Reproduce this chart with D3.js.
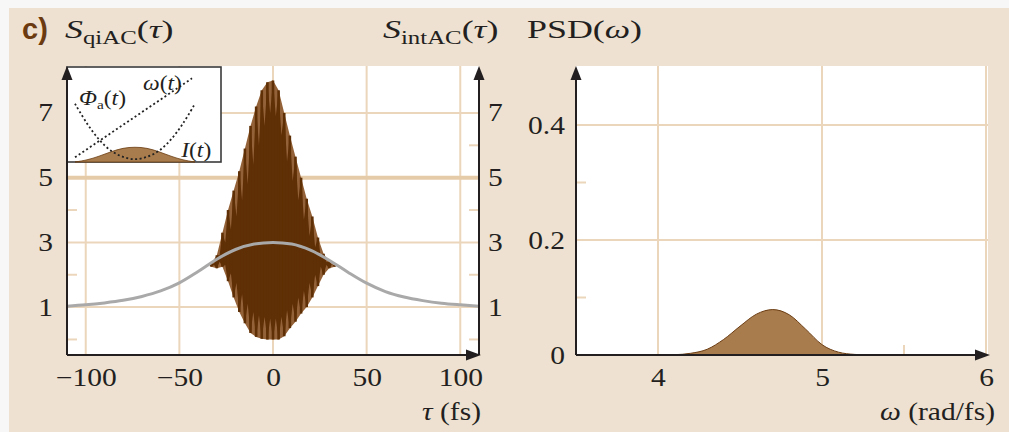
<!DOCTYPE html>
<html>
<head>
<meta charset="utf-8">
<script src="https://cdn.jsdelivr.net/npm/d3@7"></script>
<style>
  body { margin: 0; background: #fff; }
  svg text { font-family: "Liberation Serif", "Times New Roman", serif; fill: #231f20; }
  text.sx { transform-box: fill-box; transform: scaleX(1.18); }
  text.tx { transform-box: fill-box; transform: scaleX(1.38); transform-origin: 0% 50%; }
  text.a-end { transform-origin: 100% 50%; }
  text.a-start { transform-origin: 0% 50%; }
  text.a-mid { transform-origin: 50% 50%; }
</style>
</head>
<body>
<svg id="chart"></svg>
<script>
// ---------- data ----------
// left panel: interferometric autocorrelation S_qiAC and intensity AC S_intAC
const tauTicks = [-100, -50, 0, 50, 100];
const acTicks = [1, 3, 5, 7];
const acMinor = [0, 2, 4, 6];

const intTau = [-110, -100, -90, -80, -70, -60, -50, -40, -30, -20, -10, 0,
                10, 20, 30, 40, 50, 60, 70, 80, 90, 100, 110];
const intAC = [1.03, 1.07, 1.13, 1.21, 1.33, 1.5, 1.75, 2.1, 2.48, 2.78, 2.95, 3.0,
               2.95, 2.76, 2.45, 2.08, 1.74, 1.48, 1.31, 1.2, 1.12, 1.07, 1.03];

// fringe pattern, upper and lower edges (spike / notch alternating)
const fringeTau = [-33, -31.5, -30, -28.5, -27, -25.5, -24, -22.5, -21, -19.5, -18, -16.5,
                   -15, -13.5, -12, -10.5, -9, -7.5, -6, -4.5, -3, -1.5, 0, 1.5, 3, 4.5,
                   6, 7.5, 9, 10.5, 12, 13.5, 15, 16.5, 18, 19.5, 21, 22.5, 24, 25.5, 27,
                   28.5, 30, 31.5, 33];
const fringeHi = [2.35, 2.35, 2.6, 2.6, 3.3, 3.0, 4.0, 3.4, 4.6, 3.8, 5.2, 4.3, 5.9, 4.8,
                  6.6, 5.4, 7.2, 6.0, 7.7, 6.6, 7.95, 7.0, 8.0, 6.9, 7.7, 6.3, 7.0, 5.5,
                  6.3, 4.9, 5.65, 4.3, 5.0, 3.7, 4.35, 3.2, 3.8, 2.85, 3.15, 2.55, 2.65,
                  2.4, 2.4, 2.3, 2.3];
const fringeLo = [2.25, 2.3, 2.2, 2.4, 2.25, 2.3, 1.8, 2.05, 1.3, 1.75, 0.85, 1.4, 0.5,
                  1.1, 0.2, 0.85, 0.08, 0.75, 0.02, 0.7, 0.0, 0.65, 0.0, 0.65, 0.0, 0.7, 0.1,
                  0.9, 0.35, 1.1, 0.55, 1.3, 0.8, 1.5, 1.0, 1.75, 1.3, 2.0, 1.65, 2.25,
                  2.0, 2.3, 2.2, 2.32, 2.25];

// inset: pulse intensity, phase and instantaneous frequency (arb. units)
const insetT = [-1, -0.8, -0.6, -0.4, -0.2, 0, 0.2, 0.4, 0.6, 0.8, 1];
const insetI = [0, 0.02, 0.06, 0.11, 0.15, 0.16, 0.15, 0.11, 0.06, 0.02, 0];
const insetPhi = [0.62, 0.41, 0.24, 0.12, 0.055, 0.03, 0.055, 0.12, 0.24, 0.41, 0.62];
const omegaT = [-1, 0.95];
const omegaV = [0.05, 0.89];

// right panel: power spectral density
const omegaTicks = [4, 5, 6];
const psdTicks = [0, 0.2, 0.4];
const psdMinor = [0.1, 0.3];
const omegaMinor = [5.5];
const psdOmega = [4.0, 4.1, 4.2, 4.3, 4.4, 4.5, 4.6, 4.7, 4.8, 4.9, 5.0, 5.1, 5.2, 5.3];
const psdVal = [0, 0.0005, 0.003, 0.01, 0.027, 0.05, 0.071, 0.079, 0.07, 0.045, 0.018,
                0.005, 0.001, 0];

// ---------- styles ----------
const bg = '#eee1d1';
const gridColor = '#ebd6bb';
const axisColor = '#231f20';
const darkBrown = '#5f2f05';
const lightBrown = '#946238';
const tan = '#a87c4d';

const W = 1009, H = 432;
const svg = d3.select('#chart').attr('width', W).attr('height', H);

svg.append('rect').attr('width', W).attr('height', H).attr('fill', '#f7f7f7');
svg.append('rect').attr('x', 9).attr('y', 8).attr('width', W - 9).attr('height', H - 8)
    .attr('fill', bg);

function arrow(g, x0, y0, dir) {
  // small filled triangle, tip at (x0, y0)
  const p = dir === 'up'
    ? [[x0, y0], [x0 - 5.5, y0 + 14], [x0 + 5.5, y0 + 14]]
    : [[x0, y0], [x0 - 15, y0 - 5.5], [x0 - 15, y0 + 5.5]];
  g.append('path').attr('d', d3.line()(p) + 'Z').attr('fill', axisColor);
}

function styleAxis(g, cls, size) {
  g.attr('font-family', null).attr('font-size', null).attr('color', axisColor);
  g.select('.domain').remove();
  g.selectAll('text').attr('class', 'sx ' + cls).style('font-size', size + 'px');
}

// ================= left panel =================
const L = {left: 67, right: 479, top: 66, bottom: 355};
const x = d3.scaleLinear().domain([-110, 110]).range([L.left, L.right]);
const y = d3.scaleLinear().domain([-0.48, 8.42]).range([L.bottom, 67]);

const left = svg.append('g');
left.append('rect').attr('x', L.left).attr('y', L.top)
    .attr('width', L.right - L.left).attr('height', L.bottom - L.top).attr('fill', '#fff');

left.selectAll('.vgrid').data(tauTicks).join('line')
    .attr('class', 'vgrid')
    .attr('x1', d => x(d)).attr('x2', d => x(d))
    .attr('y1', L.top).attr('y2', L.bottom)
    .attr('stroke', gridColor).attr('stroke-width', 2);

left.selectAll('.hgrid').data(acTicks).join('line')
    .attr('class', 'hgrid')
    .attr('x1', L.left).attr('x2', L.right)
    .attr('y1', d => y(d)).attr('y2', d => y(d))
    .attr('stroke', d => d === 5 ? '#e6cba8' : gridColor)
    .attr('stroke-width', d => d === 5 ? 4 : 2);

left.selectAll('.minorL').data(acMinor).join('line')
    .attr('class', 'minorL')
    .attr('x1', L.left).attr('x2', L.left + 10)
    .attr('y1', d => y(d)).attr('y2', d => y(d))
    .attr('stroke', gridColor).attr('stroke-width', 2);
left.selectAll('.minorR').data(acMinor).join('line')
    .attr('class', 'minorR')
    .attr('x1', L.right - 10).attr('x2', L.right)
    .attr('y1', d => y(d)).attr('y2', d => y(d))
    .attr('stroke', gridColor).attr('stroke-width', 2);

// fringes
const fringe = fringeTau.map((t, i) => ({t: t, hi: fringeHi[i], lo: fringeLo[i]}));
const spikes = fringe.filter((d, i) => i % 2 === 0);
const fringeArea = d3.area()
    .x(d => x(d.t))
    .y0(d => y(d.lo))
    .y1(d => y(d.hi));
left.append('path')
    .datum(spikes)
    .attr('d', fringeArea)
    .attr('fill', lightBrown);
left.append('path')
    .datum(fringe)
    .attr('d', fringeArea)
    .attr('fill', darkBrown);
left.selectAll('.spike').data(spikes).join('line')
    .attr('class', 'spike')
    .attr('x1', d => x(d.t)).attr('x2', d => x(d.t))
    .attr('y1', d => y(d.lo)).attr('y2', d => y(d.hi))
    .attr('stroke', darkBrown).attr('stroke-width', 2.6);

// intensity autocorrelation
left.append('path')
    .datum(intTau.map((t, i) => [t, intAC[i]]))
    .attr('d', d3.line().x(d => x(d[0])).y(d => y(d[1])).curve(d3.curveMonotoneX))
    .attr('fill', 'none')
    .attr('stroke', '#a9a9a9')
    .attr('stroke-width', 3);

// inset
const inset = left.append('g');
const ix = d3.scaleLinear().domain([-1, 1]).range([75, 195]);
const iy = d3.scaleLinear().domain([0, 1]).range([162, 68]);
inset.append('rect').attr('x', 67).attr('y', 67).attr('width', 154).attr('height', 95)
    .attr('fill', '#fff').attr('stroke', '#3a3a3a').attr('stroke-width', 1.6);
inset.append('path')
    .datum(insetT.map((t, i) => [t, insetI[i]]))
    .attr('d', d3.area().x(d => ix(d[0])).y0(iy(0)).y1(d => iy(d[1])).curve(d3.curveBasis))
    .attr('fill', tan).attr('stroke', '#6b3c12').attr('stroke-width', 0.8);
inset.append('path')
    .datum(insetT.map((t, i) => [t, insetPhi[i]]))
    .attr('d', d3.line().x(d => ix(d[0])).y(d => iy(d[1])).curve(d3.curveCatmullRom))
    .attr('fill', 'none').attr('stroke', '#222').attr('stroke-width', 1.8)
    .attr('stroke-dasharray', '2,2.5');
inset.append('path')
    .datum(omegaT.map((t, i) => [t, omegaV[i]]))
    .attr('d', d3.line().x(d => ix(d[0])).y(d => iy(d[1])))
    .attr('fill', 'none').attr('stroke', '#222').attr('stroke-width', 1.8)
    .attr('stroke-dasharray', '2,2.5');

const phiLbl = inset.append('text').attr('class', 'sx a-start')
    .attr('x', 79).attr('y', 105).style('font-size', '20px');
phiLbl.append('tspan').style('font-style', 'italic').text('Φ');
phiLbl.append('tspan').attr('dy', 4).style('font-size', '13px').text('a');
phiLbl.append('tspan').attr('dy', -4).text('(');
phiLbl.append('tspan').style('font-style', 'italic').text('t');
phiLbl.append('tspan').text(')');

const omLbl = inset.append('text').attr('class', 'sx a-start')
    .attr('x', 143).attr('y', 90).style('font-size', '20px');
omLbl.append('tspan').style('font-style', 'italic').text('ω');
omLbl.append('tspan').text('(');
omLbl.append('tspan').style('font-style', 'italic').text('t');
omLbl.append('tspan').text(')');

const iLbl = inset.append('text').attr('class', 'sx a-start')
    .attr('x', 181).attr('y', 157).style('font-size', '20px');
iLbl.append('tspan').style('font-style', 'italic').text('I');
iLbl.append('tspan').text('(');
iLbl.append('tspan').style('font-style', 'italic').text('t');
iLbl.append('tspan').text(')');

// axes
left.append('g').attr('transform', `translate(${L.left},0)`)
    .call(d3.axisLeft(y).tickValues(acTicks).tickSize(0).tickPadding(14))
    .call(g => styleAxis(g, 'a-end', 25));
left.append('g').attr('transform', `translate(${L.right},0)`)
    .call(d3.axisRight(y).tickValues(acTicks).tickSize(0).tickPadding(9))
    .call(g => styleAxis(g, 'a-start', 25));
left.append('g').attr('transform', `translate(0,${L.bottom})`)
    .call(d3.axisBottom(x).tickValues(tauTicks).tickSize(0).tickPadding(13))
    .call(g => styleAxis(g, 'a-mid', 25));

const axL = left.append('g');
axL.append('line').attr('x1', L.left).attr('x2', L.left).attr('y1', L.bottom).attr('y2', 72)
    .attr('stroke', axisColor).attr('stroke-width', 2);
axL.append('line').attr('x1', L.right).attr('x2', L.right).attr('y1', L.bottom).attr('y2', 72)
    .attr('stroke', axisColor).attr('stroke-width', 2);
axL.append('line').attr('x1', L.left).attr('x2', L.right - 4).attr('y1', L.bottom).attr('y2', L.bottom)
    .attr('stroke', axisColor).attr('stroke-width', 2);
arrow(axL, L.left, 66, 'up');
arrow(axL, L.right, 66, 'up');
arrow(axL, 481, L.bottom, 'right');

const tauLbl = left.append('text').attr('class', 'sx a-end')
    .attr('x', 481).attr('y', 420).attr('text-anchor', 'end').style('font-size', '25px');
tauLbl.append('tspan').style('font-style', 'italic').text('τ');
tauLbl.append('tspan').text(' (fs)');

// ================= right panel =================
const R = {left: 576, right: 988, top: 66, bottom: 355};
const xw = d3.scaleLinear().domain([3.5, 6]).range([R.left, 986]);
const yp = d3.scaleLinear().domain([0, 0.5]).range([R.bottom, 67.5]);

const right = svg.append('g');
right.append('rect').attr('x', R.left).attr('y', R.top)
    .attr('width', R.right - R.left).attr('height', R.bottom - R.top).attr('fill', '#fff');
right.selectAll('.vgrid').data(omegaTicks).join('line')
    .attr('class', 'vgrid')
    .attr('x1', d => xw(d)).attr('x2', d => xw(d))
    .attr('y1', R.top).attr('y2', R.bottom)
    .attr('stroke', gridColor).attr('stroke-width', 2);
right.selectAll('.hgrid').data(psdTicks.filter(d => d > 0)).join('line')
    .attr('class', 'hgrid')
    .attr('x1', R.left).attr('x2', R.right)
    .attr('y1', d => yp(d)).attr('y2', d => yp(d))
    .attr('stroke', gridColor).attr('stroke-width', 2);
right.selectAll('.minorY').data(psdMinor).join('line')
    .attr('class', 'minorY')
    .attr('x1', R.left).attr('x2', R.left + 10)
    .attr('y1', d => yp(d)).attr('y2', d => yp(d))
    .attr('stroke', gridColor).attr('stroke-width', 2);
right.selectAll('.minorX').data(omegaMinor).join('line')
    .attr('class', 'minorX')
    .attr('x1', d => xw(d)).attr('x2', d => xw(d))
    .attr('y1', R.bottom - 10).attr('y2', R.bottom)
    .attr('stroke', gridColor).attr('stroke-width', 2);

right.append('path')
    .datum(psdOmega.map((w, i) => [w, psdVal[i]]))
    .attr('d', d3.area().x(d => xw(d[0])).y0(yp(0)).y1(d => yp(d[1])).curve(d3.curveMonotoneX))
    .attr('fill', tan).attr('stroke', '#6b3c12').attr('stroke-width', 1);

right.append('g').attr('transform', `translate(${R.left},0)`)
    .call(d3.axisLeft(yp).tickValues(psdTicks).tickSize(0).tickPadding(11)
      .tickFormat(d => d === 0 ? '0' : d3.format('.1f')(d)))
    .call(g => styleAxis(g, 'a-end', 25));
right.append('g').attr('transform', `translate(0,${R.bottom})`)
    .call(d3.axisBottom(xw).tickValues(omegaTicks).tickSize(0).tickPadding(13)
      .tickFormat(d3.format('d')))
    .call(g => styleAxis(g, 'a-mid', 25));

const axR = right.append('g');
axR.append('line').attr('x1', R.left).attr('x2', R.left).attr('y1', R.bottom).attr('y2', 72)
    .attr('stroke', axisColor).attr('stroke-width', 2);
axR.append('line').attr('x1', R.left).attr('x2', R.right - 4).attr('y1', R.bottom).attr('y2', R.bottom)
    .attr('stroke', axisColor).attr('stroke-width', 2);
arrow(axR, R.left, 66, 'up');
arrow(axR, 990, R.bottom, 'right');

const omAx = right.append('text').attr('class', 'sx a-end')
    .attr('x', 995).attr('y', 420).attr('text-anchor', 'end').style('font-size', '25px');
omAx.append('tspan').style('font-style', 'italic').text('ω');
omAx.append('tspan').text(' (rad/fs)');

// ================= titles =================
svg.append('text').attr('x', 22).attr('y', 39)
    .style('font-family', '"Liberation Sans", Arial, sans-serif')
    .style('font-weight', 'bold').style('font-size', '29px').style('fill', '#6b3a10')
    .text('c)');

function subTitle(x0, main, sub, arg) {
  const t = svg.append('text').attr('class', 'tx')
      .attr('x', x0).attr('y', 38).style('font-size', '26px');
  t.append('tspan').style('font-style', 'italic').text(main);
  t.append('tspan').attr('dy', 6).style('font-size', '18px').text(sub);
  t.append('tspan').attr('dy', -6).text('(');
  t.append('tspan').style('font-style', 'italic').text(arg);
  t.append('tspan').text(')');
}
subTitle(65, 'S', 'qiAC', 'τ');
subTitle(383, 'S', 'intAC', 'τ');

const psdT = svg.append('text').attr('class', 'tx')
    .attr('x', 527).attr('y', 38).style('font-size', '26px');
psdT.append('tspan').text('PSD(');
psdT.append('tspan').style('font-style', 'italic').text('ω');
psdT.append('tspan').text(')');
</script>
</body>
</html>
